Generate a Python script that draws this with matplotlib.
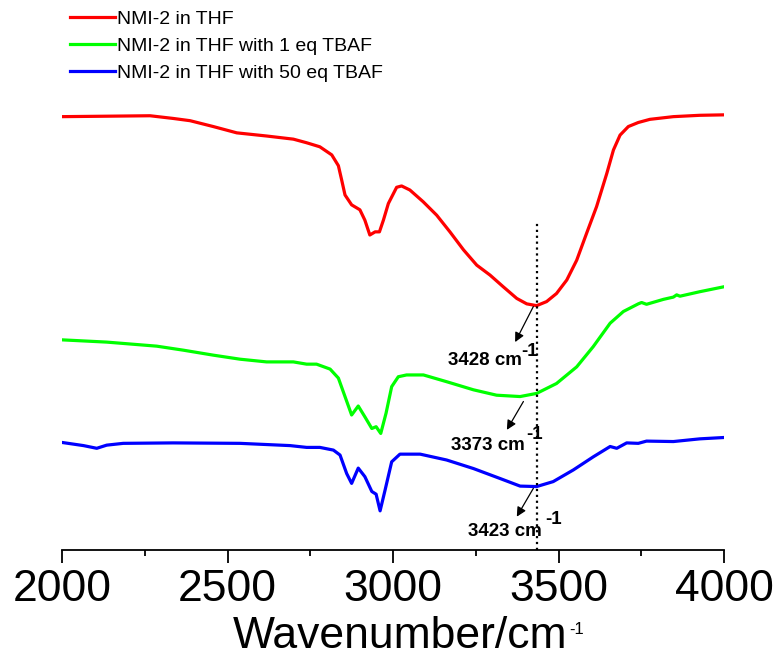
import numpy as np
import matplotlib
matplotlib.use('Agg')
import matplotlib.pyplot as plt

plt.rcParams['font.family'] = ['Liberation Sans', 'DejaVu Sans']

# FTIR spectra (arbitrary transmittance units, stacked)
wn_red = [2000, 2135, 2266, 2336, 2387, 2457, 2528, 2618, 2699, 2739, 2779, 2815, 2835,
          2845, 2855, 2875, 2900, 2915, 2930, 2946, 2959, 2971, 2986, 3011, 3026, 3051,
          3091, 3132, 3172, 3213, 3253, 3293, 3333, 3374, 3404, 3434, 3464, 3494, 3525,
          3555, 3585, 3615, 3646, 3666, 3686, 3711, 3741, 3776, 3847, 3927, 4000]
t_red = [96.3, 96.4, 96.5, 95.9, 95.4, 94.1, 92.7, 92.0, 91.3, 90.5, 89.6, 87.8, 85.4,
         82.2, 78.9, 76.7, 75.6, 73.3, 70.0, 70.7, 70.7, 73.3, 77.0, 80.6, 80.9, 80.0,
         77.4, 74.4, 70.7, 66.7, 63.3, 61.1, 58.5, 55.9, 54.7, 54.3, 55.2, 57.0, 60.0,
         64.4, 70.4, 76.3, 83.7, 88.9, 92.2, 94.1, 95.0, 95.7, 96.3, 96.6, 96.7]

wn_green = [2000, 2135, 2286, 2367, 2457, 2538, 2618, 2699, 2739, 2769, 2810, 2835, 2855,
            2875, 2895, 2915, 2936, 2949, 2963, 2979, 2996, 3016, 3041, 3092, 3162, 3243,
            3313, 3384, 3434, 3494, 3555, 3605, 3656, 3696, 3741, 3751, 3766, 3817, 3847,
            3857, 3867, 3927, 4000]
t_green = [46.7, 46.2, 45.3, 44.4, 43.3, 42.4, 41.8, 41.8, 41.3, 41.3, 40.2, 38.2, 34.1,
           30.0, 32.0, 29.6, 27.0, 27.4, 25.9, 30.4, 36.3, 38.5, 38.9, 38.9, 37.4, 35.6,
           34.4, 34.1, 34.8, 37.0, 40.7, 45.2, 50.4, 53.0, 54.7, 55.0, 54.6, 55.7, 56.2,
           56.7, 56.4, 57.4, 58.5]

wn_blue = [2000, 2065, 2105, 2135, 2185, 2336, 2538, 2689, 2739, 2779, 2820, 2840, 2860,
           2875, 2895, 2915, 2936, 2949, 2961, 2976, 2996, 3021, 3082, 3162, 3243, 3323,
           3384, 3434, 3484, 3545, 3605, 3656, 3676, 3706, 3741, 3766, 3847, 3927, 4000]
t_blue = [23.9, 23.2, 22.6, 23.3, 23.7, 23.8, 23.7, 23.2, 22.8, 22.8, 22.2, 21.1, 17.0,
          14.8, 18.2, 16.3, 13.0, 12.4, 8.7, 13.3, 19.6, 21.3, 21.3, 20.0, 18.1, 15.9,
          14.2, 14.1, 15.2, 17.8, 20.7, 23.0, 22.6, 23.8, 23.7, 24.2, 24.1, 24.7, 25.0]

labels = ['NMI-2 in THF', 'NMI-2 in THF with 1 eq TBAF', 'NMI-2 in THF with 50 eq TBAF']
colors = ['#ff0000', '#00ff00', '#0000ff']

# peak annotations: text, arrow tail (on curve), arrow head, text centre
peak_text = ['3428 cm', '3373 cm', '3423 cm']
peak_xy = [(3424, 54.1), (3394, 33.0), (3424, 13.7)]
head_xy = [(3369, 46.2), (3344, 26.7), (3374, 7.4)]
text_xy = [(3279, 42.1), (3288, 23.2), (3337, 4.1)]
sup_xy = [(3414, 44.2), (3428, 25.7), (3485, 6.7)]
ref_line_x = 3435

fig = plt.figure(figsize=(7.77, 6.56), dpi=100)
ax = fig.add_axes([62 / 777, 106 / 656, 662 / 777, 450 / 656])

for wn, t, c, lab in zip([wn_red, wn_green, wn_blue], [t_red, t_green, t_blue], colors, labels):
    ax.plot(wn, t, color=c, lw=2.3, label=lab, solid_joinstyle='round')

ax.plot([ref_line_x, ref_line_x], [0, 73.1], color='black', ls=':', lw=1.6)

for txt, p, h, tp, sp in zip(peak_text, peak_xy, head_xy, text_xy, sup_xy):
    ax.annotate('', xy=h, xytext=p,
                arrowprops=dict(arrowstyle='-|>', color='black', lw=0.9,
                                mutation_scale=14, shrinkA=0, shrinkB=0))
    ax.text(tp[0], tp[1], txt, fontsize=13.5, fontweight='bold', ha='center', va='center')
    ax.text(sp[0], sp[1], '-1', fontsize=13.5, fontweight='bold', ha='center', va='center')

ax.set_xlim(2000, 4000)
ax.set_ylim(0, 100)
for s in ['left', 'right', 'top']:
    ax.spines[s].set_visible(False)
ax.spines['bottom'].set_linewidth(1.3)
ax.set_yticks([])
ax.set_xticks([2000, 2500, 3000, 3500, 4000])
ax.set_xticks([2250, 2750, 3250, 3750], minor=True)
ax.tick_params(axis='x', which='major', direction='out', length=9, width=1.3,
               labelsize=32, pad=5)
ax.tick_params(axis='x', which='minor', direction='out', length=4.5, width=1.3)

fig.text(400 / 777, 8 / 656, 'Wavenumber/cm', fontsize=32, ha='center', va='baseline')
fig.text(569 / 777, 22 / 656, '-1', fontsize=12, ha='left', va='baseline')

ax.legend(loc='upper left', bbox_to_anchor=(70 / 777, 1 - 10 / 656),
          bbox_transform=fig.transFigure, frameon=False, fontsize=14,
          handlelength=2.3, handletextpad=0.1, labelspacing=0.48, borderpad=0,
          borderaxespad=0)

plt.savefig('out.png', dpi=100)
